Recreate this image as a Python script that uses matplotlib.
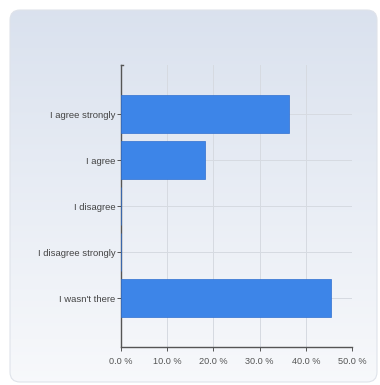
import matplotlib
matplotlib.use("Agg")
import matplotlib.pyplot as plt
import numpy as np
from matplotlib.patches import FancyBboxPatch

categories = ["I agree strongly", "I agree", "I disagree", "I disagree strongly", "I wasn't there"]
values = [36.4, 18.2, 0.0, 0.0, 45.5]
xticks = [0, 10, 20, 30, 40, 50]
xticklabels = ["0.0 %", "10.0 %", "20.0 %", "30.0 %", "40.0 %", "50.0 %"]

plt.rcParams['font.family'] = ['Liberation Sans', 'DejaVu Sans']

W, H = 380, 385
fig = plt.figure(figsize=(W / 100, H / 100), dpi=100)
fig.patch.set_facecolor('white')

# background panel with gradient
bg = fig.add_axes([0, 0, 1, 1], zorder=0)
bg.set_xlim(0, W)
bg.set_ylim(H, 0)
bg.axis('off')
grad = np.linspace(0, 1, 256).reshape(-1, 1)
top = np.array([0.855, 0.885, 0.935])
bot = np.array([0.97, 0.975, 0.985])
img = top[None, None, :] * (1 - grad[..., None]) + bot[None, None, :] * grad[..., None]
panel = FancyBboxPatch((10, 10), 367, 372, boxstyle="round,pad=0,rounding_size=10",
                       facecolor='none', edgecolor='#dfe3ea', linewidth=0.8)
bg.add_patch(panel)
im = bg.imshow(img, extent=(10, 377, 382, 10), aspect='auto', zorder=0)
im.set_clip_path(panel)

# main axes
x0, x1 = 121, 352
y0, y1 = 65, 347
ax = fig.add_axes([x0 / W, 1 - y1 / H, (x1 - x0) / W, (y1 - y0) / H], zorder=1)
ax.patch.set_alpha(0)
pos = np.arange(len(categories))
ax.barh(pos, values, height=0.83, color='#3d85e8', edgecolor='#2f6fd0', linewidth=0.5, zorder=3)
ax.set_ylim(len(categories) - 1 + 1.06, -1.07)
ax.set_xlim(0, 50)
ax.set_yticks(pos)
ax.set_yticklabels(categories, fontsize=6.8, color='#444444')
ax.set_xticks(xticks)
ax.set_xticklabels(xticklabels, fontsize=6.6, color='#555555')
ax.grid(True, color='#d6dae1', linewidth=0.7, zorder=0)
ax.set_axisbelow(True)
for s in ['top', 'right']:
    ax.spines[s].set_visible(False)
for s in ['left', 'bottom']:
    ax.spines[s].set_color('#555555')
    ax.spines[s].set_linewidth(1.0)
ax.tick_params(axis='y', length=3, width=0.7, color='#555555', pad=1)
ax.tick_params(axis='x', length=3, width=0.7, color='#555555', pad=4)
# small cap at top of y axis
ax.plot([0, 0.4], [-1.07, -1.07], color='#555555', linewidth=1.0, clip_on=False, zorder=4)

fig.savefig("out.png", dpi=100)
